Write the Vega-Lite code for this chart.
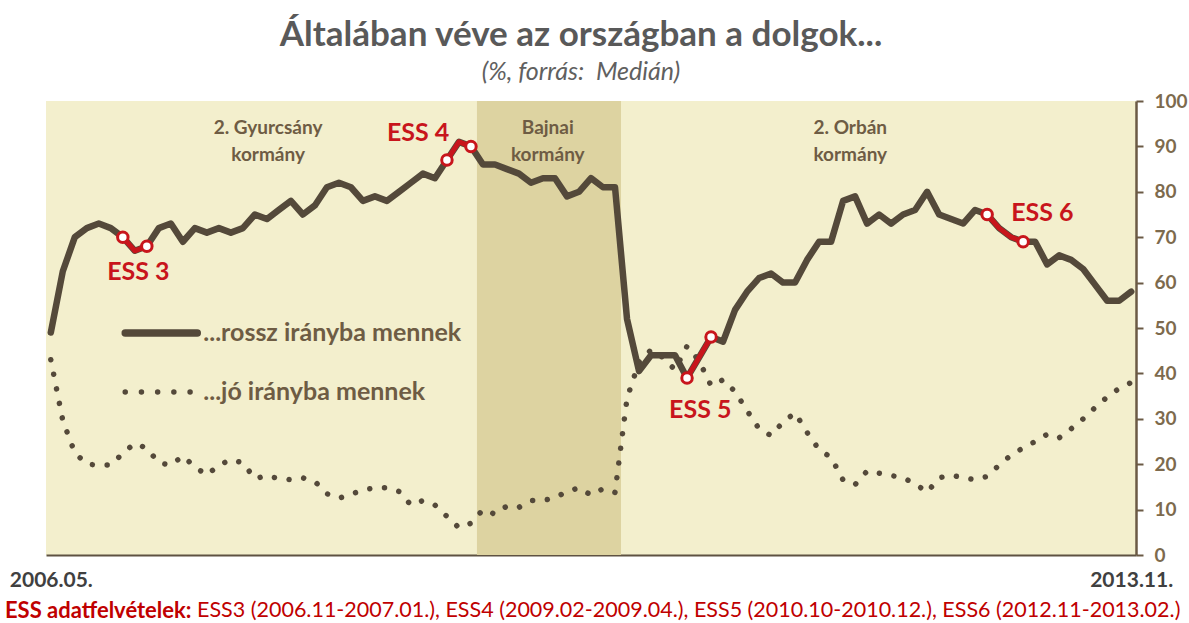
{
  "$schema": "https://vega.github.io/schema/vega-lite/v6.json",
  "width": 1090,
  "height": 454,
  "autosize": {"type": "none"},
  "padding": {"left": 46, "top": 101, "right": 53, "bottom": 68},
  "background": "white",
  "view": {"fill": "#F3EFCD", "stroke": null},
  "config": {"font": "Lato"},
  "title": {
    "text": "Általában véve az országban a dolgok...",
    "subtitle": "(%, forrás:\u00a0\u00a0Medián)",
    "anchor": "middle",
    "frame": "group",
    "dx": -10,
    "offset": 7,
    "font": "Lato",
    "fontSize": 35,
    "fontWeight": "bold",
    "color": "#595959",
    "subtitleFont": "Lato",
    "subtitleFontSize": 25,
    "subtitleFontStyle": "italic",
    "subtitleColor": "#606060",
    "subtitlePadding": 7
  },
  "datasets": {
    "survey": [
      {"month": "2006.05", "i": 0, "rossz": 49, "jo": 43},
      {"month": "2006.06", "i": 1, "rossz": 62.5, "jo": 29.6},
      {"month": "2006.07", "i": 2, "rossz": 70, "jo": 22.5},
      {"month": "2006.08", "i": 3, "rossz": 72, "jo": 20},
      {"month": "2006.09", "i": 4, "rossz": 73, "jo": 19.8},
      {"month": "2006.10", "i": 5, "rossz": 72, "jo": 19.8},
      {"month": "2006.11", "i": 6, "rossz": 70, "jo": 22.4, "ess": "ESS 3", "edge": true},
      {"month": "2006.12", "i": 7, "rossz": 67, "jo": 24.6, "ess": "ESS 3"},
      {"month": "2007.01", "i": 8, "rossz": 68, "jo": 23.5, "ess": "ESS 3", "edge": true},
      {"month": "2007.02", "i": 9, "rossz": 72, "jo": 20.3},
      {"month": "2007.03", "i": 10, "rossz": 73, "jo": 19.8},
      {"month": "2007.04", "i": 11, "rossz": 69, "jo": 21.8},
      {"month": "2007.05", "i": 12, "rossz": 72, "jo": 19.4},
      {"month": "2007.06", "i": 13, "rossz": 71, "jo": 17.6},
      {"month": "2007.07", "i": 14, "rossz": 72, "jo": 19.8},
      {"month": "2007.08", "i": 15, "rossz": 71, "jo": 21},
      {"month": "2007.09", "i": 16, "rossz": 72, "jo": 20.3},
      {"month": "2007.10", "i": 17, "rossz": 75, "jo": 16.8},
      {"month": "2007.11", "i": 18, "rossz": 74, "jo": 17.5},
      {"month": "2007.12", "i": 19, "rossz": 76, "jo": 16.8},
      {"month": "2008.01", "i": 20, "rossz": 78, "jo": 16.6},
      {"month": "2008.02", "i": 21, "rossz": 75, "jo": 17},
      {"month": "2008.03", "i": 22, "rossz": 77, "jo": 16.2},
      {"month": "2008.04", "i": 23, "rossz": 81, "jo": 13.5},
      {"month": "2008.05", "i": 24, "rossz": 82, "jo": 12.5},
      {"month": "2008.06", "i": 25, "rossz": 81, "jo": 13.4},
      {"month": "2008.07", "i": 26, "rossz": 78, "jo": 14.3},
      {"month": "2008.08", "i": 27, "rossz": 79, "jo": 14.8},
      {"month": "2008.09", "i": 28, "rossz": 78, "jo": 14.8},
      {"month": "2008.10", "i": 29, "rossz": 80, "jo": 14},
      {"month": "2008.11", "i": 30, "rossz": 82, "jo": 11},
      {"month": "2008.12", "i": 31, "rossz": 84, "jo": 12},
      {"month": "2009.01", "i": 32, "rossz": 83, "jo": 11},
      {"month": "2009.02", "i": 33, "rossz": 87, "jo": 8.5, "ess": "ESS 4", "edge": true},
      {"month": "2009.03", "i": 34, "rossz": 91, "jo": 6, "ess": "ESS 4"},
      {"month": "2009.04", "i": 35, "rossz": 90, "jo": 7, "ess": "ESS 4", "edge": true},
      {"month": "2009.05", "i": 36, "rossz": 86, "jo": 10},
      {"month": "2009.06", "i": 37, "rossz": 86, "jo": 9},
      {"month": "2009.07", "i": 38, "rossz": 85, "jo": 10.8},
      {"month": "2009.08", "i": 39, "rossz": 84, "jo": 10.5},
      {"month": "2009.09", "i": 40, "rossz": 82, "jo": 12},
      {"month": "2009.10", "i": 41, "rossz": 83, "jo": 12},
      {"month": "2009.11", "i": 42, "rossz": 83, "jo": 12.6},
      {"month": "2009.12", "i": 43, "rossz": 79, "jo": 14},
      {"month": "2010.01", "i": 44, "rossz": 80, "jo": 14.8},
      {"month": "2010.02", "i": 45, "rossz": 83, "jo": 13.2},
      {"month": "2010.03", "i": 46, "rossz": 81, "jo": 14.6},
      {"month": "2010.04", "i": 47, "rossz": 81, "jo": 13.8},
      {"month": "2010.05", "i": 48, "rossz": 52, "jo": 34.5},
      {"month": "2010.06", "i": 49, "rossz": 40.5, "jo": 42.5},
      {"month": "2010.07", "i": 50, "rossz": 44, "jo": 45.2},
      {"month": "2010.08", "i": 51, "rossz": 44, "jo": 43.5},
      {"month": "2010.09", "i": 52, "rossz": 44, "jo": 40.8},
      {"month": "2010.10", "i": 53, "rossz": 39, "jo": 46, "ess": "ESS 5", "edge": true},
      {"month": "2010.11", "i": 54, "rossz": 43.5, "jo": 42.8, "ess": "ESS 5"},
      {"month": "2010.12", "i": 55, "rossz": 48, "jo": 37.3, "ess": "ESS 5", "edge": true},
      {"month": "2011.01", "i": 56, "rossz": 47, "jo": 38.6},
      {"month": "2011.02", "i": 57, "rossz": 54, "jo": 36},
      {"month": "2011.03", "i": 58, "rossz": 58, "jo": 31.8},
      {"month": "2011.04", "i": 59, "rossz": 61, "jo": 27.8},
      {"month": "2011.05", "i": 60, "rossz": 62, "jo": 26.3},
      {"month": "2011.06", "i": 61, "rossz": 60, "jo": 29.3},
      {"month": "2011.07", "i": 62, "rossz": 60, "jo": 31.3},
      {"month": "2011.08", "i": 63, "rossz": 65, "jo": 27},
      {"month": "2011.09", "i": 64, "rossz": 69, "jo": 23.2},
      {"month": "2011.10", "i": 65, "rossz": 69, "jo": 21.5},
      {"month": "2011.11", "i": 66, "rossz": 78, "jo": 16.5},
      {"month": "2011.12", "i": 67, "rossz": 79, "jo": 15.5},
      {"month": "2012.01", "i": 68, "rossz": 73, "jo": 18.5},
      {"month": "2012.02", "i": 69, "rossz": 75, "jo": 18},
      {"month": "2012.03", "i": 70, "rossz": 73, "jo": 17.5},
      {"month": "2012.04", "i": 71, "rossz": 75, "jo": 17},
      {"month": "2012.05", "i": 72, "rossz": 76, "jo": 15.7},
      {"month": "2012.06", "i": 73, "rossz": 80, "jo": 13.8},
      {"month": "2012.07", "i": 74, "rossz": 75, "jo": 17},
      {"month": "2012.08", "i": 75, "rossz": 74, "jo": 17.6},
      {"month": "2012.09", "i": 76, "rossz": 73, "jo": 17},
      {"month": "2012.10", "i": 77, "rossz": 76, "jo": 16.6},
      {"month": "2012.11", "i": 78, "rossz": 75, "jo": 17.3, "ess": "ESS 6", "edge": true},
      {"month": "2012.12", "i": 79, "rossz": 72, "jo": 19.8, "ess": "ESS 6"},
      {"month": "2013.01", "i": 80, "rossz": 70, "jo": 22, "ess": "ESS 6"},
      {"month": "2013.02", "i": 81, "rossz": 69, "jo": 23.6, "ess": "ESS 6", "edge": true},
      {"month": "2013.03", "i": 82, "rossz": 69, "jo": 25},
      {"month": "2013.04", "i": 83, "rossz": 64, "jo": 26.6},
      {"month": "2013.05", "i": 84, "rossz": 66, "jo": 25.8},
      {"month": "2013.06", "i": 85, "rossz": 65, "jo": 27.8},
      {"month": "2013.07", "i": 86, "rossz": 63, "jo": 30},
      {"month": "2013.08", "i": 87, "rossz": 59.5, "jo": 32.5},
      {"month": "2013.09", "i": 88, "rossz": 56, "jo": 34.8},
      {"month": "2013.10", "i": 89, "rossz": 56, "jo": 36.7},
      {"month": "2013.11", "i": 90, "rossz": 58, "jo": 38}
    ],
    "bands": [
      {"government": "Bajnai kormány", "i": 35.5, "i2": 47.5}
    ],
    "govLabels": [
      {"label": "2. Gyurcsány\nkormány", "i": 18.1, "v": 94.1},
      {"label": "Bajnai\nkormány", "i": 41.4, "v": 94.1},
      {"label": "2. Orbán\nkormány", "i": 66.6, "v": 94.1}
    ],
    "essLabels": [
      {"label": "ESS 3", "i": 7.3, "v": 62.3},
      {"label": "ESS 4", "i": 30.6, "v": 93},
      {"label": "ESS 5", "i": 54.1, "v": 32},
      {"label": "ESS 6", "i": 82.6, "v": 75.3}
    ],
    "legendSolid": [
      {"i": 6.2, "v": 48.9},
      {"i": 12.2, "v": 48.9}
    ],
    "legendDotted": [
      {"i": 6.2, "v": 35.9},
      {"i": 11.8, "v": 35.9}
    ],
    "legendText": [
      {"label": "...rossz irányba mennek", "i": 12.7, "v": 48.9},
      {"label": "...jó irányba mennek", "i": 12.7, "v": 35.9}
    ],
    "footer": [
      {"part": "head", "label": "ESS adatfelvételek:", "i": -3.82, "v": -12.4},
      {"part": "body", "label": "ESS3 (2006.11-2007.01.), ESS4 (2009.02-2009.04.), ESS5 (2010.10-2010.12.), ESS6 (2012.11-2013.02.)", "i": 12.18, "v": -12.4}
    ]
  },
  "encoding": {
    "x": {
      "field": "i", "type": "quantitative", "title": null,
      "scale": {"domain": [-0.4, 90.4], "nice": false, "zero": false},
      "axis": {
        "title": null, "values": [0, 90],
        "labelExpr": "datum.value == 0 ? '2006.05.' : '2013.11.'",
        "ticks": false, "grid": false,
        "domainColor": "#5E5242", "domainWidth": 2,
        "labelFont": "Lato", "labelFontSize": 21, "labelFontWeight": "bold", "labelColor": "#404040",
        "labelPadding": 14, "labelFlush": false, "labelOverlap": false
      }
    }
  },
  "layer": [
    {
      "data": {"name": "bands"},
      "mark": {"type": "rect", "fill": "#DDD3A1"},
      "encoding": {
        "x2": {"field": "i2"}
      }
    },
    {
      "data": {"name": "govLabels"},
      "mark": {"type": "text", "lineBreak": "\n", "fontSize": 19, "fontWeight": "bold", "color": "#6E5C44", "lineHeight": 27, "align": "center", "baseline": "middle"},
      "encoding": {
        "y": {"field": "v", "type": "quantitative", "title": null, "scale": {"domain": [0, 100], "nice": false}},
        "text": {"field": "label"}
      }
    },
    {
      "data": {"name": "survey"},
      "transform": [{"fold": ["rossz", "jo"], "as": ["series", "v"]}, {"filter": "datum.series == 'jo'"}],
      "mark": {"type": "line", "stroke": "#54493A", "strokeWidth": 5.5, "strokeDash": [0.01, 14.8], "strokeCap": "round"},
      "encoding": {
        "y": {"field": "v", "type": "quantitative", "title": null, "scale": {"domain": [0, 100], "nice": false}}
      }
    },
    {
      "data": {"name": "survey"},
      "transform": [{"fold": ["rossz", "jo"], "as": ["series", "v"]}, {"filter": "datum.series == 'rossz'"}],
      "mark": {"type": "line", "stroke": "#54493A", "strokeWidth": 6.5, "strokeCap": "round", "strokeJoin": "round"},
      "encoding": {
        "y": {
          "field": "v", "type": "quantitative", "title": null,
          "scale": {"domain": [0, 100], "nice": false},
          "axis": {
            "orient": "right", "title": null, "values": [0, 10, 20, 30, 40, 50, 60, 70, 80, 90, 100],
            "grid": false, "domainColor": "#6B5A45", "domainWidth": 2.5,
            "tickColor": "#6B5A45", "tickWidth": 2, "tickSize": 7,
            "labelFont": "Lato", "labelFontSize": 19, "labelFontWeight": "bold", "labelColor": "#7D6A4D",
            "labelPadding": 11, "labelFlush": false
          }
        }
      }
    },
    {
      "data": {"name": "survey"},
      "transform": [{"fold": ["rossz", "jo"], "as": ["series", "v"]}, {"filter": "datum.series == 'rossz' && isValid(datum.ess)"}],
      "mark": {"type": "line", "stroke": "#C8151C", "strokeWidth": 5, "strokeCap": "round", "strokeJoin": "round"},
      "encoding": {
        "y": {"field": "v", "type": "quantitative", "title": null, "scale": {"domain": [0, 100], "nice": false}},
        "detail": {"field": "ess"}
      }
    },
    {
      "data": {"name": "survey"},
      "transform": [{"fold": ["rossz", "jo"], "as": ["series", "v"]}, {"filter": "datum.series == 'rossz' && datum.edge === true"}],
      "mark": {"type": "point", "shape": "circle", "filled": true, "fill": "white", "stroke": "#C8151C", "strokeWidth": 3, "size": 110, "opacity": 1},
      "encoding": {
        "y": {"field": "v", "type": "quantitative", "title": null, "scale": {"domain": [0, 100], "nice": false}}
      }
    },
    {
      "data": {"name": "essLabels"},
      "mark": {"type": "text", "fontSize": 25, "fontWeight": "bold", "color": "#C8151C", "align": "center", "baseline": "middle"},
      "encoding": {
        "y": {"field": "v", "type": "quantitative", "title": null, "scale": {"domain": [0, 100], "nice": false}},
        "text": {"field": "label"}
      }
    },
    {
      "data": {"name": "legendSolid"},
      "mark": {"type": "line", "stroke": "#54493A", "strokeWidth": 7.5, "strokeCap": "round"},
      "encoding": {
        "y": {"field": "v", "type": "quantitative", "title": null, "scale": {"domain": [0, 100], "nice": false}}
      }
    },
    {
      "data": {"name": "legendDotted"},
      "mark": {"type": "line", "stroke": "#54493A", "strokeWidth": 5.5, "strokeDash": [0.01, 16.2], "strokeCap": "round"},
      "encoding": {
        "y": {"field": "v", "type": "quantitative", "title": null, "scale": {"domain": [0, 100], "nice": false}}
      }
    },
    {
      "data": {"name": "legendText"},
      "mark": {"type": "text", "fontSize": 25, "fontWeight": "bold", "color": "#6E5C44", "align": "left", "baseline": "middle"},
      "encoding": {
        "y": {"field": "v", "type": "quantitative", "title": null, "scale": {"domain": [0, 100], "nice": false}},
        "text": {"field": "label"}
      }
    },
    {
      "data": {"name": "footer"},
      "transform": [{"filter": "datum.part == 'head'"}],
      "mark": {"type": "text", "fontSize": 22, "fontWeight": "bold", "color": "#C00000", "align": "left", "baseline": "middle"},
      "encoding": {
        "y": {"field": "v", "type": "quantitative", "title": null, "scale": {"domain": [0, 100], "nice": false}},
        "text": {"field": "label"}
      }
    },
    {
      "data": {"name": "footer"},
      "transform": [{"filter": "datum.part == 'body'"}],
      "mark": {"type": "text", "fontSize": 21.5, "fontWeight": "normal", "color": "#C00000", "align": "left", "baseline": "middle"},
      "encoding": {
        "y": {"field": "v", "type": "quantitative", "title": null, "scale": {"domain": [0, 100], "nice": false}},
        "text": {"field": "label"}
      }
    }
  ]
}
